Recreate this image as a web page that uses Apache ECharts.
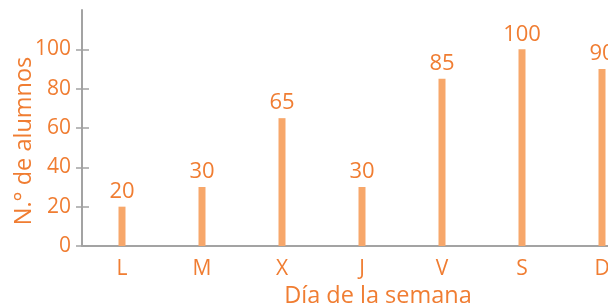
<!DOCTYPE html>
<html>
	<head>
		<meta charset="utf-8">
		<title>Alumnos por día</title>
		<style>
			html, body { margin: 0; padding: 0; background: #fff; }
			#main { width: 608px; height: 306px; }
		</style>
	</head>
	<body>
		<div id="main"></div>
		<script src="https://cdn.jsdelivr.net/npm/echarts@6/dist/echarts.min.js"></script>
		<script>
			// datos
			var dias = ['L', 'M', 'X', 'J', 'V', 'S', 'D'];
			var alumnos = [20, 30, 65, 30, 85, 100, 90];
			var marcasY = [0, 20, 40, 60, 80, 100];

			var naranja = '#f07d32';
			var barra = '#f7a76a';
			var gris = '#a3a3a3';
			var fuente = 'Open Sans';

			var myChart = echarts.init(document.getElementById('main'));
			var option = {
				animation: false,
				grid: {
					left: 82,
					right: -34,
					top: 10,
					bottom: 60,
					outerBoundsMode: 'none',
					containLabel: false
				},
				xAxis: {
					type: 'category',
					data: dias,
					name: 'Día de la semana',
					nameLocation: 'middle',
					nameGap: 38,
					nameMoveOverlap: false,
					nameTextStyle: {
						color: naranja,
						fontSize: 23.5,
						fontFamily: fuente,
						padding: [0, 0, 0, 32]
					},
					axisLine: {
						lineStyle: { color: gris, width: 2 }
					},
					axisTick: {
						alignWithLabel: true,
						length: 5,
						lineStyle: { color: gris, width: 1 }
					},
					axisLabel: {
						color: naranja,
						fontSize: 21,
						fontFamily: fuente,
						margin: 13
					}
				},
				yAxis: [{
						type: 'value',
						min: 0,
						max: 120,
						interval: 20,
						name: 'N.° de alumnos',
						nameLocation: 'middle',
						nameGap: 46,
						nameMoveOverlap: false,
						nameTextStyle: {
							color: naranja,
							fontSize: 23.5,
							fontFamily: fuente,
							padding: [0, 26, 0, 0]
						},
						splitLine: { show: false },
						axisLine: {
							show: true,
							lineStyle: { color: gris, width: 2 }
						},
						axisTick: {
							show: true,
							length: 6,
							customValues: marcasY,
							lineStyle: { color: gris, width: 1.5 }
						},
						axisLabel: {
							color: naranja,
							fontSize: 21,
							fontFamily: fuente,
							margin: 11,
							customValues: marcasY
						}
					},
					{
						// ticks hacia dentro
						type: 'value',
						position: 'left',
						min: 0,
						max: 120,
						interval: 20,
						splitLine: { show: false },
						axisLine: { show: false },
						axisTick: {
							show: true,
							inside: true,
							length: 7,
							customValues: marcasY,
							lineStyle: { color: gris, width: 1.5 }
						},
						axisLabel: { show: false }
					}
				],
				series: [{
					type: 'bar',
					data: alumnos,
					barWidth: 7,
					itemStyle: { color: barra },
					label: {
						show: true,
						position: 'top',
						distance: 4,
						color: naranja,
						fontSize: 22,
						fontFamily: fuente
					}
				}]
			};
			myChart.setOption(option);
		</script>
	</body>
</html>
